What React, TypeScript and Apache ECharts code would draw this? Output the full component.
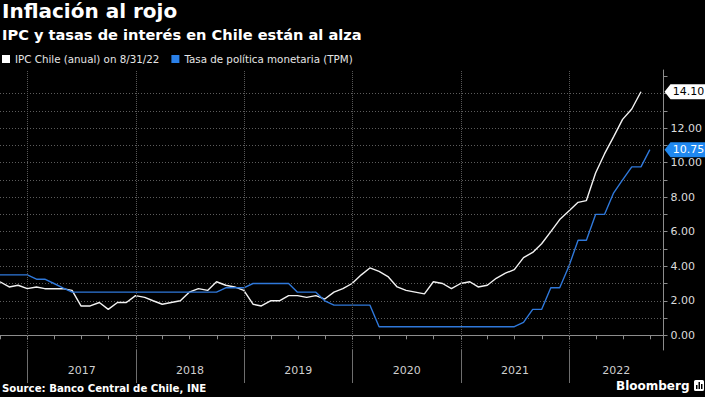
import React, { useEffect, useRef } from 'react';
import * as echarts from 'echarts';

// Month-end observation dates (YYYY-MM)
const MONTHS = [
  '2016-09', '2016-10', '2016-11', '2016-12',
  '2017-01', '2017-02', '2017-03', '2017-04', '2017-05', '2017-06', '2017-07', '2017-08', '2017-09', '2017-10', '2017-11', '2017-12',
  '2018-01', '2018-02', '2018-03', '2018-04', '2018-05', '2018-06', '2018-07', '2018-08', '2018-09', '2018-10', '2018-11', '2018-12',
  '2019-01', '2019-02', '2019-03', '2019-04', '2019-05', '2019-06', '2019-07', '2019-08', '2019-09', '2019-10', '2019-11', '2019-12',
  '2020-01', '2020-02', '2020-03', '2020-04', '2020-05', '2020-06', '2020-07', '2020-08', '2020-09', '2020-10', '2020-11', '2020-12',
  '2021-01', '2021-02', '2021-03', '2021-04', '2021-05', '2021-06', '2021-07', '2021-08', '2021-09', '2021-10', '2021-11', '2021-12',
  '2022-01', '2022-02', '2022-03', '2022-04', '2022-05', '2022-06', '2022-07', '2022-08', '2022-09',
];

// IPC Chile (anual), Sep 2016 - Aug 2022
const IPC = [
  3.1, 2.8, 2.9, 2.7,
  2.8, 2.7, 2.7, 2.7, 2.6, 1.7, 1.7, 1.9, 1.5, 1.9, 1.9, 2.3,
  2.2, 2.0, 1.8, 1.9, 2.0, 2.5, 2.7, 2.6, 3.1, 2.9, 2.8, 2.6,
  1.8, 1.7, 2.0, 2.0, 2.3, 2.3, 2.2, 2.3, 2.1, 2.5, 2.7, 3.0,
  3.5, 3.9, 3.7, 3.4, 2.8, 2.6, 2.5, 2.4, 3.1, 3.0, 2.7, 3.0,
  3.1, 2.8, 2.9, 3.3, 3.6, 3.8, 4.5, 4.8, 5.3, 6.0, 6.7, 7.2,
  7.7, 7.8, 9.4, 10.5, 11.5, 12.5, 13.1, 14.1,
];

// Tasa de política monetaria (TPM), Sep 2016 - Sep 2022
const TPM = [
  3.5, 3.5, 3.5, 3.5,
  3.25, 3.25, 3.0, 2.75, 2.5, 2.5, 2.5, 2.5, 2.5, 2.5, 2.5, 2.5,
  2.5, 2.5, 2.5, 2.5, 2.5, 2.5, 2.5, 2.5, 2.5, 2.75, 2.75, 2.75,
  3.0, 3.0, 3.0, 3.0, 3.0, 2.5, 2.5, 2.5, 2.0, 1.75, 1.75, 1.75,
  1.75, 1.75, 0.5, 0.5, 0.5, 0.5, 0.5, 0.5, 0.5, 0.5, 0.5, 0.5,
  0.5, 0.5, 0.5, 0.5, 0.5, 0.5, 0.75, 1.5, 1.5, 2.75, 2.75, 4.0,
  5.5, 5.5, 7.0, 7.0, 8.25, 9.0, 9.75, 9.75, 10.75,
];

const YEARS = [2017, 2018, 2019, 2020, 2021, 2022];
const Y_LABELS = [0, 2, 4, 6, 8, 10, 12];
const Y_MINOR = [0, 1, 2, 3, 4, 5, 6, 7, 8, 9, 10, 11, 12, 13, 14, 15];

const IPC_NAME = 'IPC Chile (anual) on 8/31/22';
const TPM_NAME = 'Tasa de política monetaria (TPM)';

const monthEnd = (s: string) => {
  const [y, m] = s.split('-').map(Number);
  return new Date(y, m, 0).getTime();
};

const X_MIN = monthEnd('2016-09');
const X_MAX = new Date(2022, 10, 15).getTime();

const QUARTER_TICKS: number[] = [];
for (let y = 2016; y <= 2022; y++) {
  for (const m of [0, 3, 6, 9]) {
    const t = new Date(y, m, 1).getTime();
    if (t > X_MIN && t < X_MAX) QUARTER_TICKS.push(t);
  }
}
const YEAR_TICKS = YEARS.map((y) => new Date(y, 0, 1).getTime());
const YEAR_LABEL_POS = YEARS.map((y) => {
  const a = Math.max(new Date(y, 0, 1).getTime(), X_MIN);
  const b = Math.min(new Date(y + 1, 0, 1).getTime(), X_MAX);
  return Math.round((a + b) / 2);
});

const FONT = 'DejaVu Sans';
const BLUE = '#2f78da';
const TAG_BLUE = '#1f88f0';

const tag = (value: number, fill: string, textColor: string) => ({
  symbol: 'path://M0,7 L6,0 L42,0 L42,14 L6,14 Z',
  symbolSize: [42, 15],
  symbolOffset: [22, 0],
  symbolKeepAspect: false,
  itemStyle: { color: fill },
  label: {
    show: true,
    color: textColor,
    fontSize: 11,
    fontFamily: FONT,
    offset: [3, 0],
    formatter: () => value.toFixed(2),
  },
  data: [{ coord: [X_MAX, value], value }],
});

const xAxisBase = {
  type: 'value',
  min: X_MIN,
  max: X_MAX,
  position: 'bottom',
  splitLine: { show: false },
};

const option = {
  animation: false,
  backgroundColor: '#000',
  textStyle: { fontFamily: FONT },
  title: [
    {
      text: 'Inflación al rojo',
      left: 2,
      top: 1,
      padding: 0,
      textStyle: { color: '#fff', fontSize: 20, fontWeight: 'bold', fontFamily: FONT },
    },
    {
      text: 'IPC y tasas de interés en Chile están al alza',
      left: 2,
      top: 27,
      padding: 0,
      textStyle: { color: '#fff', fontSize: 14.6, fontWeight: 'bold', fontFamily: FONT },
    },
    {
      text: 'Source: Banco Central de Chile, INE',
      left: 2,
      top: 383,
      padding: 0,
      textStyle: { color: '#fff', fontSize: 10.2, fontWeight: 'bold', fontFamily: FONT },
    },
  ],
  legend: {
    top: 54,
    left: 2,
    padding: 0,
    itemWidth: 8,
    itemHeight: 8,
    itemGap: 12,
    icon: 'rect',
    data: [IPC_NAME, TPM_NAME],
    textStyle: { color: '#e6e6e6', fontSize: 10.3, fontFamily: FONT },
  },
  grid: { left: 0, right: 41, top: 70, bottom: 47 },
  xAxis: [
    {
      ...xAxisBase,
      axisLine: { show: true, lineStyle: { color: '#8c8c8c', width: 1 } },
      axisTick: { show: true, customValues: QUARTER_TICKS, length: 4, lineStyle: { color: '#8c8c8c' } },
      axisLabel: { show: false },
    },
    {
      ...xAxisBase,
      axisLine: { show: false },
      axisTick: { show: true, customValues: YEAR_TICKS, length: 33, lineStyle: { color: '#6e6e6e' } },
      axisLabel: {
        show: true,
        customValues: YEAR_LABEL_POS,
        formatter: (v: number) => String(new Date(v).getFullYear()),
        color: '#cfcfcf',
        fontSize: 11,
        fontFamily: FONT,
        margin: 15,
      },
    },
  ],
  yAxis: {
    type: 'value',
    position: 'right',
    min: -0.85,
    max: 15.36,
    splitNumber: 8,
    axisLine: { show: true, lineStyle: { color: '#8c8c8c', width: 1 } },
    axisTick: { show: true, customValues: Y_MINOR, length: 4, lineStyle: { color: '#8c8c8c' } },
    axisLabel: {
      show: true,
      customValues: Y_LABELS,
      formatter: (v: number) => v.toFixed(2),
      color: '#dcdcdc',
      fontSize: 11,
      fontFamily: FONT,
      margin: 7,
    },
    splitLine: {
      show: true,
      showMinLine: false,
      showMaxLine: false,
      lineStyle: { color: '#5c5c5c', type: [1, 2], width: 1 },
    },
  },
  series: [
    {
      name: 'yearLines',
      type: 'line',
      data: [],
      z: 1,
      silent: true,
      markLine: {
        silent: true,
        symbol: 'none',
        label: { show: false },
        lineStyle: { color: '#575757', type: [1, 1], width: 1 },
        data: YEAR_TICKS.map((t) => ({ xAxis: t })),
      },
    },
    {
      name: IPC_NAME,
      type: 'line',
      z: 3,
      showSymbol: false,
      data: IPC.map((v, i) => [monthEnd(MONTHS[i]), v]),
      lineStyle: { color: '#f2f2f2', width: 1.4 },
      itemStyle: { color: '#ffffff' },
      markPoint: tag(IPC[IPC.length - 1], '#ffffff', '#000000'),
    },
    {
      name: TPM_NAME,
      type: 'line',
      z: 3,
      showSymbol: false,
      data: TPM.map((v, i) => [monthEnd(MONTHS[i]), v]),
      lineStyle: { color: BLUE, width: 1.4 },
      itemStyle: { color: '#2a80e8' },
      markPoint: tag(TPM[TPM.length - 1], TAG_BLUE, '#ffffff'),
    },
  ],
  graphic: [
    {
      type: 'text',
      left: 616,
      top: 380,
      style: { text: 'Bloomberg', fill: '#ffffff', font: `bold 12px "${FONT}"` },
    },
    {
      type: 'group',
      left: 694,
      top: 380,
      children: [
        { type: 'rect', shape: { x: 0, y: 0, width: 10, height: 11, r: 1.5 }, style: { fill: '#ffffff' } },
        { type: 'rect', shape: { x: 2, y: 5, width: 1.5, height: 4 }, style: { fill: '#000' } },
        { type: 'rect', shape: { x: 4.5, y: 2, width: 1.5, height: 7 }, style: { fill: '#000' } },
        { type: 'rect', shape: { x: 7, y: 4, width: 1.5, height: 5 }, style: { fill: '#000' } },
      ],
    },
  ],
};

export default function App() {
  const ref = useRef<HTMLDivElement>(null);
  useEffect(() => {
    const chart = echarts.init(ref.current!, null, { renderer: 'svg' });
    chart.setOption(option as any);
    return () => chart.dispose();
  }, []);
  return (
    <div
      ref={ref}
      style={{ position: 'fixed', left: 0, top: 0, width: 705, height: 397, background: '#000' }}
    />
  );
}
